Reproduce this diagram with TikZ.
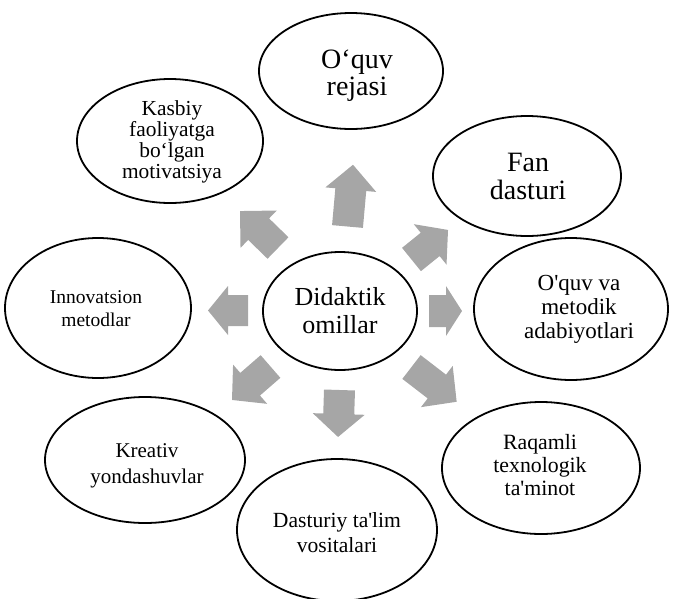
\documentclass[tikz,border=0pt]{standalone}
\usepackage{fontspec}
\setmainfont{Liberation Serif}
\usetikzlibrary{shapes.geometric}
\definecolor{arrowgray}{HTML}{A6A6A6}
% #1,#2 tail centre; #3 angle; #4 length; #5 head length; #6 shaft half width; #7 head half width
\newcommand\blockarrow[7]{\fill[arrowgray,shift={(#1,#2)},rotate=#3] (0,-#6) -- ({#4-#5},-#6) -- ({#4-#5},-#7) -- (#4,0) -- ({#4-#5},#7) -- ({#4-#5},#6) -- (0,#6) -- cycle;}
\newcommand\fs[2]{\fontsize{#1}{#2}\selectfont}
\tikzset{
  oval/.style={draw, ellipse, line width=1.8pt, inner sep=0pt},
  txt/.style={align=center, inner sep=0pt}
}
\begin{document}
\begin{tikzpicture}[x=1pt,y=-1pt]
\useasboundingbox (0,0) rectangle (673,598);
% block arrows
\blockarrow{347.5}{226.5}{84.9}{62}{25}{15.5}{25.5}
\blockarrow{411.5}{259.5}{39}{47}{23}{15}{26}
\blockarrow{429}{311}{0}{33}{16}{16}{25}
\blockarrow{411.5}{367}{-37.6}{57}{25}{15}{26}
\blockarrow{339.5}{390}{-91.8}{47}{23}{15.5}{26}
\blockarrow{270.5}{366.5}{221}{51}{24}{15}{26}
\blockarrow{248}{310.5}{180}{40}{20}{15.5}{24.5}
\blockarrow{278}{248}{135.8}{53}{26}{15}{26}
% ellipses
\node[oval,minimum width=154pt,minimum height=118pt] (center) at (340,311) {};
\node[oval,minimum width=184pt,minimum height=116pt] (reja) at (351,71) {};
\node[oval,minimum width=188pt,minimum height=120pt] (fan) at (527,176) {};
\node[oval,minimum width=194pt,minimum height=142pt] (adab) at (571,309) {};
\node[oval,minimum width=198pt,minimum height=132pt] (raqam) at (541,468) {};
\node[oval,minimum width=200pt,minimum height=142pt] (dastur) at (337,530) {};
\node[oval,minimum width=200pt,minimum height=126pt] (kreativ) at (145,460) {};
\node[oval,minimum width=186pt,minimum height=140pt] (innov) at (98,308) {};
\node[oval,minimum width=186pt,minimum height=124pt] (kasbiy) at (170,141) {};
% texts
\node[txt,font=\fs{26}{28}] (centert) at (340,311) {Didaktik\\omillar};
\node[txt,font=\fs{28}{27}] (rejat) at (357,76) {O‘quv\\rejasi};
\node[txt,font=\fs{28}{28}] (fant) at (528,176) {Fan\\dasturi};
\node[txt,font=\fs{23}{24}] (adabt) at (579,309) {O\textquotesingle quv va\\metodik\\adabiyotlari};
\node[txt,font=\fs{21.8}{23}] (raqamt) at (540,465) {Raqamli\\texnologik\\ta\textquotesingle minot};
\node[txt,font=\fs{21.6}{25}] (dasturt) at (337,533) {Dasturiy ta\textquotesingle lim\\vositalari};
\node[txt,font=\fs{21}{26}] (kreativt) at (147,466) {Kreativ\\yondashuvlar};
\node[txt,font=\fs{19.5}{23}] (innovt) at (96,309) {Innovatsion\\metodlar};
\node[txt,font=\fs{21.4}{21}] (kasbiyt) at (172,142) {Kasbiy\\faoliyatga\\bo‘lgan\\motivatsiya};
\end{tikzpicture}
\end{document}
